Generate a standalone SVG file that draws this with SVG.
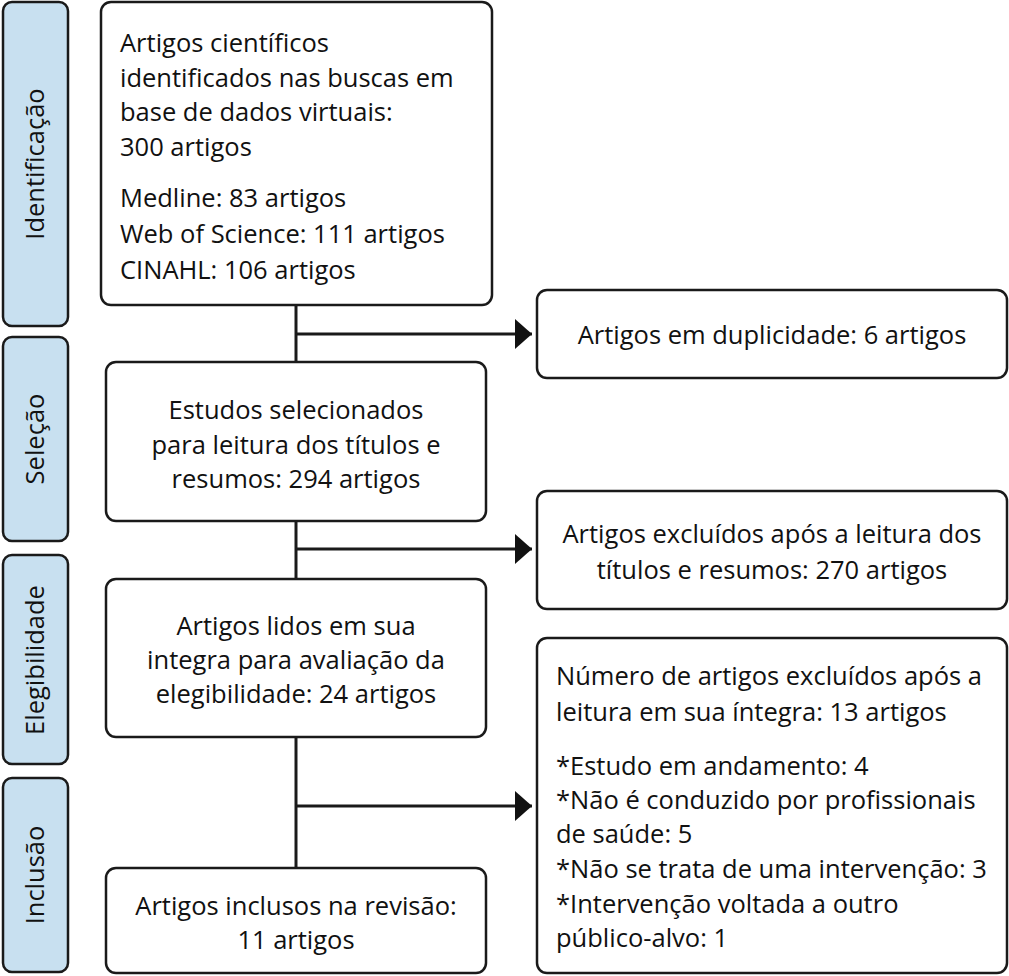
<svg xmlns="http://www.w3.org/2000/svg" width="1009" height="976" viewBox="0 0 1009 976">
<defs>
<style>
.side{fill:#c8e0f0;stroke:#1a1a1a;stroke-width:2.5}
.box{fill:#ffffff;stroke:#1a1a1a;stroke-width:2.5}
.t{font-family:"Open Sans","Liberation Sans",Arial,sans-serif;font-size:25.5px;fill:#111}
.c{text-anchor:middle}
.ln{stroke:#1a1a1a;stroke-width:3;fill:none}
</style>
<marker id="ah" markerUnits="userSpaceOnUse" markerWidth="18" markerHeight="30" refX="17" refY="15" orient="auto">
<path d="M0,0 L17,15 L0,30 Z" fill="#111"/>
</marker>
</defs>
<rect width="1009" height="976" fill="#ffffff"/>
<g id="side-identificacao">
<rect class="side" x="3" y="2" width="65" height="324" rx="9"/>
<text class="t c" transform="translate(44,164) rotate(-90)">Identificação</text>
</g>
<g id="side-selecao">
<rect class="side" x="3" y="337" width="65" height="204" rx="9"/>
<text class="t c" transform="translate(44,439) rotate(-90)">Seleção</text>
</g>
<g id="side-elegibilidade">
<rect class="side" x="3" y="555" width="65" height="209" rx="9"/>
<text class="t c" transform="translate(44,660) rotate(-90)">Elegibilidade</text>
</g>
<g id="side-inclusao">
<rect class="side" x="3" y="778" width="65" height="194" rx="9"/>
<text class="t c" transform="translate(44,875) rotate(-90)">Inclusão</text>
</g>
<g id="connectors">
<line class="ln" x1="296" y1="305" x2="296" y2="362"/>
<line class="ln" x1="296" y1="521" x2="296" y2="579"/>
<line class="ln" x1="296" y1="737" x2="296" y2="868"/>
<line class="ln" x1="296" y1="334" x2="532" y2="334" marker-end="url(#ah)"/>
<line class="ln" x1="296" y1="549" x2="532" y2="549" marker-end="url(#ah)"/>
<line class="ln" x1="296" y1="806" x2="532" y2="806" marker-end="url(#ah)"/>
</g>
<g id="identificados">
<rect class="box" x="101" y="2" width="391" height="303" rx="10"/>
<text class="t" x="120" y="52">Artigos científicos</text>
<text class="t" x="120" y="87">identificados nas buscas em</text>
<text class="t" x="120" y="121">base de dados virtuais:</text>
<text class="t" x="120" y="156">300 artigos</text>
<text class="t" x="120" y="207">Medline: 83 artigos</text>
<text class="t" x="120" y="243">Web of Science: 111 artigos</text>
<text class="t" x="120" y="279">CINAHL: 106 artigos</text>
</g>
<g id="duplicidade">
<rect class="box" x="537" y="290" width="470" height="88" rx="10"/>
<text class="t c" x="772" y="344">Artigos em duplicidade: 6 artigos</text>
</g>
<g id="selecionados">
<rect class="box" x="106" y="362" width="380" height="159" rx="10"/>
<text class="t c" x="296" y="419">Estudos selecionados</text>
<text class="t c" x="296" y="454">para leitura dos títulos e</text>
<text class="t c" x="296" y="488">resumos: 294 artigos</text>
</g>
<g id="excluidos-titulos">
<rect class="box" x="537" y="491" width="470" height="118" rx="10"/>
<text class="t c" x="772" y="543">Artigos excluídos após a leitura dos</text>
<text class="t c" x="772" y="579">títulos e resumos: 270 artigos</text>
</g>
<g id="lidos">
<rect class="box" x="106" y="579" width="380" height="158" rx="10"/>
<text class="t c" x="296" y="635">Artigos lidos em sua</text>
<text class="t c" x="296" y="669">integra para avaliação da</text>
<text class="t c" x="296" y="703">elegibilidade: 24 artigos</text>
</g>
<g id="excluidos-integra">
<rect class="box" x="537" y="638" width="470" height="335" rx="10"/>
<text class="t" x="556" y="685">Número de artigos excluídos após a</text>
<text class="t" x="556" y="721">leitura em sua íntegra: 13 artigos</text>
<text class="t" x="556" y="775">*Estudo em andamento: 4</text>
<text class="t" x="556" y="809">*Não é conduzido por profissionais</text>
<text class="t" x="556" y="843">de saúde: 5</text>
<text class="t" x="556" y="878">*Não se trata de uma intervenção: 3</text>
<text class="t" x="556" y="913">*Intervenção voltada a outro</text>
<text class="t" x="556" y="947">público-alvo: 1</text>
</g>
<g id="inclusos">
<rect class="box" x="106" y="868" width="380" height="105" rx="10"/>
<text class="t c" x="296" y="915">Artigos inclusos na revisão:</text>
<text class="t c" x="296" y="949">11 artigos</text>
</g>
</svg>
